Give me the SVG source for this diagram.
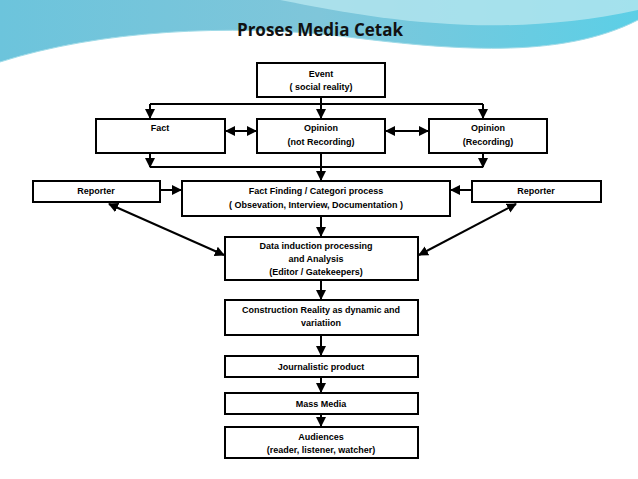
<svg xmlns="http://www.w3.org/2000/svg" width="638" height="479" viewBox="0 0 638 479">
<defs>
<linearGradient id="bg" x1="0" y1="0" x2="1" y2="0"><stop offset="0" stop-color="#6cc4dc"/><stop offset="0.5" stop-color="#7fc6da"/><stop offset="1" stop-color="#5ccfe6"/></linearGradient>
<marker id="ah" viewBox="0 0 10 10" refX="9" refY="5" markerWidth="5" markerHeight="5" orient="auto-start-reverse"><path d="M0,0 L10,5 L0,10 z" fill="#000"/></marker>
</defs>
<style>
.b{fill:#fff;stroke:#000;stroke-width:2}
.t{font-family:"Liberation Sans",Arial,sans-serif;font-size:9px;font-weight:bold;text-anchor:middle}
.c{stroke:#000;stroke-width:2;fill:none}
</style>
<rect width="638" height="479" fill="#fff"/>
<path d="M0,0 H638 V20 C560,60 450,50 340,36 C230,24 100,30 0,62 Z" fill="url(#bg)"/>
<path d="M280,0 C380,20 500,40 638,10 V0 Z" fill="#b5e6ef" opacity="0.8"/>
<path d="M0,62 C100,30 230,24 340,36 C450,50 560,60 638,20" fill="none" stroke="#9fdbe8" stroke-width="1"/>
<text x="320" y="36" font-family="'Open Sans',sans-serif" font-size="17" font-weight="bold" text-anchor="middle" fill="#111">Proses Media Cetak</text>
<g id="connectors">
<line class="c" x1="321" y1="97" x2="321" y2="104"/>
<line class="c" x1="150" y1="104" x2="483" y2="104"/>
<line class="c" x1="150" y1="104" x2="150" y2="118" marker-end="url(#ah)"/>
<line class="c" x1="321" y1="104" x2="321" y2="118" marker-end="url(#ah)"/>
<line class="c" x1="483" y1="104" x2="483" y2="118" marker-end="url(#ah)"/>
<line class="c" x1="226" y1="131" x2="256" y2="131" marker-start="url(#ah)" marker-end="url(#ah)"/>
<line class="c" x1="386" y1="131" x2="428" y2="131" marker-start="url(#ah)" marker-end="url(#ah)"/>
<line class="c" x1="150" y1="153" x2="150" y2="167" marker-end="url(#ah)"/>
<line class="c" x1="483" y1="153" x2="483" y2="167" marker-end="url(#ah)"/>
<line class="c" x1="150" y1="167" x2="483" y2="167"/>
<line class="c" x1="321" y1="153" x2="321" y2="180" marker-end="url(#ah)"/>
<line class="c" x1="160" y1="190" x2="181" y2="190" marker-end="url(#ah)"/>
<line class="c" x1="472" y1="190" x2="451" y2="190" marker-end="url(#ah)"/>
<line class="c" x1="321" y1="216" x2="321" y2="236" marker-end="url(#ah)"/>
<line class="c" x1="109" y1="204" x2="224" y2="255" marker-start="url(#ah)" marker-end="url(#ah)"/>
<line class="c" x1="516" y1="204" x2="419" y2="255" marker-start="url(#ah)" marker-end="url(#ah)"/>
<line class="c" x1="321" y1="280" x2="321" y2="299" marker-end="url(#ah)"/>
<line class="c" x1="321" y1="335" x2="321" y2="355" marker-end="url(#ah)"/>
<line class="c" x1="321" y1="377" x2="321" y2="392" marker-end="url(#ah)"/>
<line class="c" x1="321" y1="414" x2="321" y2="426" marker-end="url(#ah)"/>
</g>
<g id="event"><rect class="b" x="257" y="63" width="128" height="34"/><text class="t" x="321" y="77">Event</text><text class="t" x="321" y="90">( social reality)</text></g>
<g id="fact"><rect class="b" x="96" y="119" width="129" height="34"/><text class="t" x="160" y="131">Fact</text></g>
<g id="opinion1"><rect class="b" x="257" y="119" width="128" height="34"/><text class="t" x="321" y="131">Opinion</text><text class="t" x="321" y="145">(not Recording)</text></g>
<g id="opinion2"><rect class="b" x="429" y="119" width="118" height="34"/><text class="t" x="488" y="131">Opinion</text><text class="t" x="488" y="145">(Recording)</text></g>
<g id="reporter1"><rect class="b" x="33" y="181" width="127" height="21"/><text class="t" x="96" y="194">Reporter</text></g>
<g id="reporter2"><rect class="b" x="472" y="181" width="129" height="21"/><text class="t" x="536" y="194">Reporter</text></g>
<g id="factfinding"><rect class="b" x="182" y="181" width="268" height="35"/><text class="t" x="316" y="194">Fact Finding / Categori process</text><text class="t" x="316" y="208">( Obsevation, Interview, Documentation )</text></g>
<g id="data"><rect class="b" x="225" y="237" width="193" height="43"/><text class="t" x="316" y="249">Data induction processing</text><text class="t" x="316" y="262">and Analysis</text><text class="t" x="316" y="275">(Editor / Gatekeepers)</text></g>
<g id="construction"><rect class="b" x="225" y="300" width="193" height="35"/><text class="t" x="321" y="313">Construction Reality as dynamic and</text><text class="t" x="321" y="326">variatiion</text></g>
<g id="journalistic"><rect class="b" x="225" y="356" width="193" height="21"/><text class="t" x="321" y="370">Journalistic product</text></g>
<g id="massmedia"><rect class="b" x="225" y="393" width="193" height="21"/><text class="t" x="321" y="407">Mass Media</text></g>
<g id="audiences"><rect class="b" x="225" y="427" width="193" height="31"/><text class="t" x="321" y="440">Audiences</text><text class="t" x="321" y="453">(reader, listener, watcher)</text></g>
</svg>
